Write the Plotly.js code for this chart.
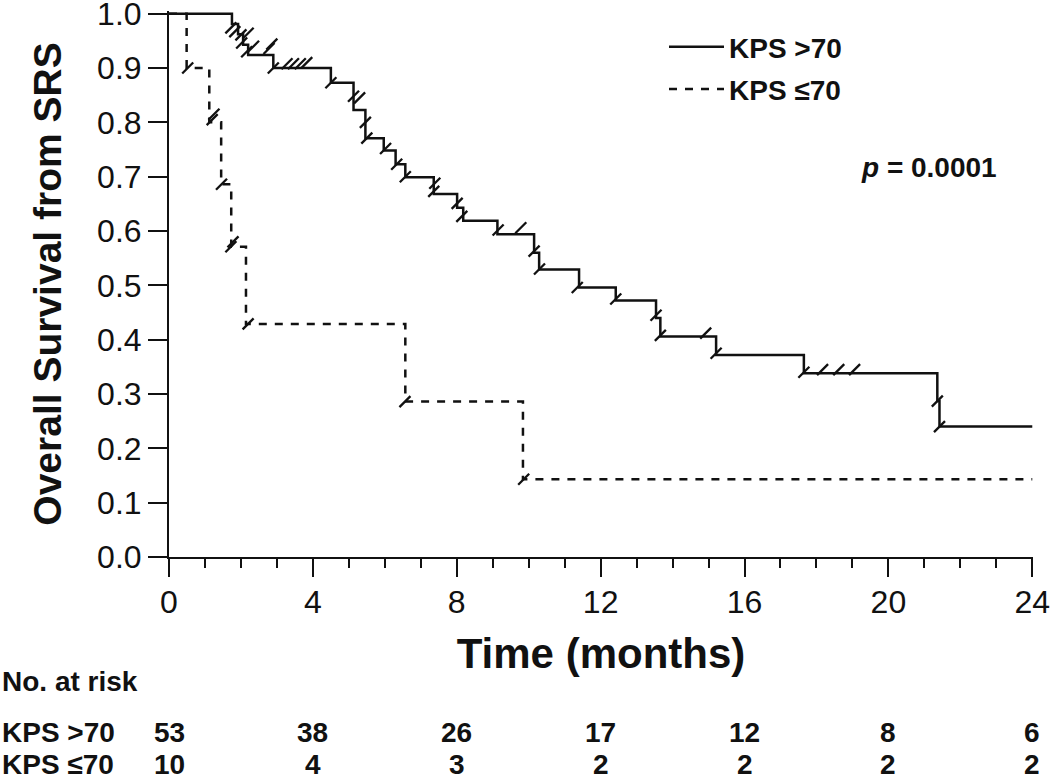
<!DOCTYPE html>
<html>
<head>
<meta charset="utf-8">
<script src="https://cdn.plot.ly/plotly-3.0.1.min.js"></script>
<style>html,body{margin:0;padding:0;background:#fff;}#chart{width:1050px;height:781px;}</style>
</head>
<body>
<div id="chart"></div>
<script>
// ---- Data ----
// Kaplan-Meier step points: time (months) and survival after each event
const highTimes = [0, 1.75, 1.92, 2.06, 2.2, 2.9, 4.5, 5.13, 5.46, 5.97, 6.3, 6.57, 7.36, 8.01, 8.18, 9.13, 10.15, 10.29, 11.4, 12.42, 13.54, 13.66, 15.21, 17.65, 21.36, 21.42, 24];
const highSurv  = [1.0, 0.981, 0.962, 0.943, 0.924, 0.900, 0.873, 0.823, 0.771, 0.748, 0.723, 0.699, 0.668, 0.643, 0.619, 0.594, 0.560, 0.529, 0.496, 0.472, 0.440, 0.406, 0.372, 0.338, 0.287, 0.240, 0.240];
// censored observations (tick marks)
const highCensT = [1.72, 1.83, 2.0, 2.2, 2.02, 2.16, 2.35, 2.78, 2.86, 2.9, 3.28, 3.46, 3.65, 3.83, 4.5, 5.13, 5.3, 5.46, 5.5, 6.02, 6.33, 6.57, 7.39, 7.36, 8.01, 8.14, 9.15, 9.78, 10.15, 10.3, 11.35, 12.42, 13.54, 13.66, 14.92, 15.21, 17.65, 18.17, 18.62, 19.06, 21.36, 21.42];
const highCensS = [0.974, 0.967, 0.961, 0.964, 0.946, 0.930, 0.940, 0.936, 0.944, 0.900, 0.908, 0.908, 0.908, 0.910, 0.873, 0.848, 0.845, 0.800, 0.771, 0.752, 0.723, 0.700, 0.688, 0.673, 0.651, 0.627, 0.602, 0.606, 0.563, 0.530, 0.496, 0.475, 0.445, 0.408, 0.412, 0.375, 0.340, 0.345, 0.345, 0.345, 0.287, 0.240];

const lowTimes = [0, 0.49, 1.12, 1.45, 1.73, 2.14, 6.57, 9.84, 24];
const lowSurv  = [1.0, 0.900, 0.800, 0.686, 0.571, 0.429, 0.286, 0.143, 0.143];
const lowCensT = [0.52, 1.2, 1.25, 1.46, 1.72, 1.78, 2.2, 6.56, 9.86];
const lowCensS = [0.900, 0.805, 0.815, 0.686, 0.571, 0.580, 0.429, 0.286, 0.143];

const groupNames = ['KPS >70', 'KPS \u226470'];
const riskTimes = [0, 4, 8, 12, 16, 20, 24];
const riskHigh = [53, 38, 26, 17, 12, 8, 6];
const riskLow  = [10, 4, 3, 2, 2, 2, 2];
const pText = '<i>p</i> = 0.0001';

// ---- Layout constants ----
const W = 1050, H = 781;
const M = {l: 169, r: 17, t: 11, b: 224};
const plotW = W - M.l - M.r, plotH = H - M.t - M.b;
const yP = px => (H - M.b - px) / plotH;
const xP = px => (px - M.l) / plotW;

const FONT = '"Liberation Sans", Arial, sans-serif';
const INK = '#111111';

const markStyle = {symbol: 'line-ne', size: 11, color: INK, line: {color: INK, width: 2.3}};

const traces = [
  {x: highTimes, y: highSurv, mode: 'lines', line: {shape: 'hv', color: INK, width: 2.5}, name: groupNames[0], legendgroup: 'a', hoverinfo: 'skip'},
  {x: lowTimes, y: lowSurv, mode: 'lines', line: {shape: 'hv', color: INK, width: 2.5, dash: '8px,8px'}, name: groupNames[1], legendgroup: 'b', hoverinfo: 'skip'},
  {x: highCensT, y: highCensS, mode: 'markers', marker: markStyle, showlegend: false, cliponaxis: false, hoverinfo: 'skip'},
  {x: lowCensT, y: lowCensS, mode: 'markers', marker: markStyle, showlegend: false, cliponaxis: false, hoverinfo: 'skip'}
];

const ann = [];
ann.push({xref: 'paper', yref: 'paper', x: xP(929), y: yP(167), text: pText, showarrow: false,
  xanchor: 'center', yanchor: 'middle', font: {family: FONT, size: 28, color: INK, weight: 'bold'}});
// risk table
const rowFont = {family: FONT, size: 28, color: INK, weight: 'bold'};
ann.push({xref: 'paper', yref: 'paper', x: -M.l / plotW, y: yP(681), text: 'No. at risk', showarrow: false,
  xanchor: 'left', yanchor: 'middle', font: rowFont});
ann.push({xref: 'paper', yref: 'paper', x: -M.l / plotW, y: yP(732), text: groupNames[0], showarrow: false,
  xanchor: 'left', yanchor: 'middle', font: rowFont});
ann.push({xref: 'paper', yref: 'paper', x: -M.l / plotW, y: yP(764), text: groupNames[1], showarrow: false,
  xanchor: 'left', yanchor: 'middle', font: rowFont});
riskTimes.forEach((t, i) => {
  ann.push({xref: 'x', yref: 'paper', x: t, y: yP(732), text: String(riskHigh[i]), showarrow: false,
    xanchor: 'center', yanchor: 'middle', font: rowFont});
  ann.push({xref: 'x', yref: 'paper', x: t, y: yP(764), text: String(riskLow[i]), showarrow: false,
    xanchor: 'center', yanchor: 'middle', font: rowFont});
});

const layout = {
  width: W, height: H,
  margin: M,
  paper_bgcolor: '#fff', plot_bgcolor: '#fff',
  font: {family: FONT, color: INK},
  showlegend: true,
  legend: {x: xP(664), y: yP(22), xanchor: 'left', yanchor: 'top', bgcolor: 'rgba(0,0,0,0)',
    font: {family: FONT, size: 28, color: INK, weight: 'bold'}, traceorder: 'grouped', tracegroupgap: 3, itemwidth: 55},
  xaxis: {
    range: [0, 24.02], tickmode: 'array', tickvals: riskTimes, ticktext: riskTimes.map(String),
    showline: true, linecolor: INK, linewidth: 2, ticks: 'outside', ticklen: 18, tickwidth: 2, tickcolor: INK,
    showgrid: false, zeroline: false, fixedrange: true, ticklabeloverflow: 'allow',
    tickfont: {family: FONT, size: 32, color: INK}, ticklabelstandoff: -2,
    minor: {dtick: 1, tick0: 0, ticks: 'outside', ticklen: 9, tickwidth: 2, tickcolor: INK, showgrid: false},
    title: {text: 'Time (months)', font: {family: FONT, size: 42, color: INK, weight: 'bold'}, standoff: 19}
  },
  yaxis: {
    range: [0, 1.005], tickmode: 'linear', tick0: 0, dtick: 0.1, tickformat: '.1f',
    showline: true, linecolor: INK, linewidth: 2, ticks: 'outside', ticklen: 19, tickwidth: 2, tickcolor: INK,
    showgrid: false, zeroline: false, fixedrange: true, ticklabeloverflow: 'allow',
    tickfont: {family: FONT, size: 32, color: INK},
    title: {text: 'Overall Survival from SRS', font: {family: FONT, size: 39, color: INK, weight: 'bold'}, standoff: 23}
  },
  annotations: ann
};

Plotly.newPlot('chart', traces, layout, {displayModeBar: false, staticPlot: true});
</script>
</body>
</html>
